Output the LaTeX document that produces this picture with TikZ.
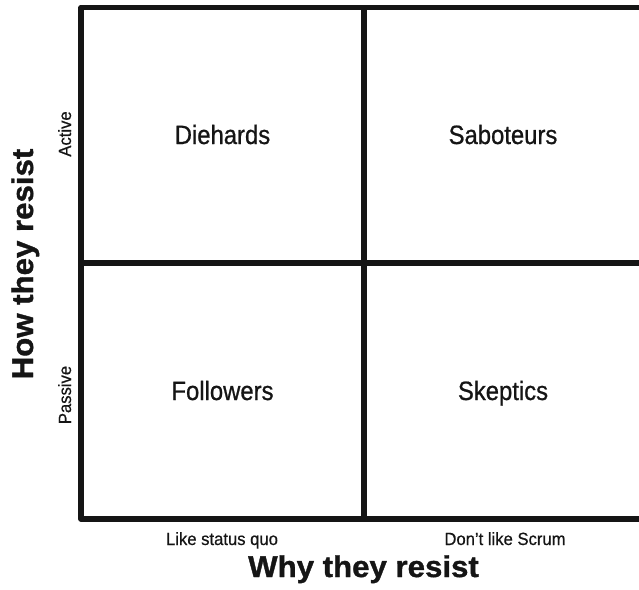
\documentclass[tikz,border=0pt]{standalone}
\usepackage{fontspec}
\setmainfont{Liberation Sans}
\newfontfamily\quadfont[FakeStretch=0.9,FakeBold=0.8]{Liberation Sans}
\newfontfamily\axisfont[FakeStretch=0.94,FakeBold=0.6]{Liberation Sans}
\newfontfamily\titlefont[FakeStretch=1.04,FakeBold=1.2]{Liberation Sans Bold}
\definecolor{ink}{HTML}{151515}
\begin{document}
\begin{tikzpicture}[x=1pt,y=-1pt,
  gridline/.style={draw=ink,line width=5.5pt,line join=round},
  quadlabel/.style={inner sep=0pt,text=ink,font=\quadfont\fontsize{26.5}{30}\selectfont},
  axislabel/.style={inner sep=0pt,text=ink,font=\axisfont\fontsize{17.7}{20}\selectfont},
  titlelabel/.style={inner sep=0pt,text=ink,font=\titlefont\fontsize{30}{34}\selectfont}]
\useasboundingbox (0,0) rectangle (639,589);
% frame corners
\coordinate (tl) at (81,7.5);
\coordinate (tr) at (645,7.5);
\coordinate (bl) at (81,519);
\coordinate (br) at (645,519);
\coordinate (mt) at (364,7.5);
\coordinate (mb) at (364,519);
\coordinate (ml) at (81,263);
\coordinate (mr) at (645,263);
\draw[gridline] (tr) -- (tl) -- (bl) -- (br);
\draw[gridline] (mt) -- (mb);
\draw[gridline] (ml) -- (mr);
% quadrant labels
\node[quadlabel,anchor=base] (diehards) at (222.5,144) {Diehards};
\node[quadlabel,anchor=base] (saboteurs) at (503,144) {Saboteurs};
\node[quadlabel,anchor=base] (followers) at (222.5,400) {Followers};
\node[quadlabel,anchor=base] (skeptics) at (503,400) {Skeptics};
% axis labels
\node[axislabel,anchor=base] (likesq) at (222,545) {Like status quo};
\node[axislabel,anchor=base] (dontlike) at (505,545) {Don’t like Scrum};
\node[axislabel,anchor=base,rotate=90] (active) at (71,134) {Active};
\node[axislabel,anchor=base,rotate=90] (passive) at (71,395) {Passive};
% titles
\node[titlelabel,anchor=base] (why) at (363.5,577) {Why they resist};
\node[titlelabel,anchor=base,rotate=90] (how) at (33,264) {How they resist};
\end{tikzpicture}
\end{document}
